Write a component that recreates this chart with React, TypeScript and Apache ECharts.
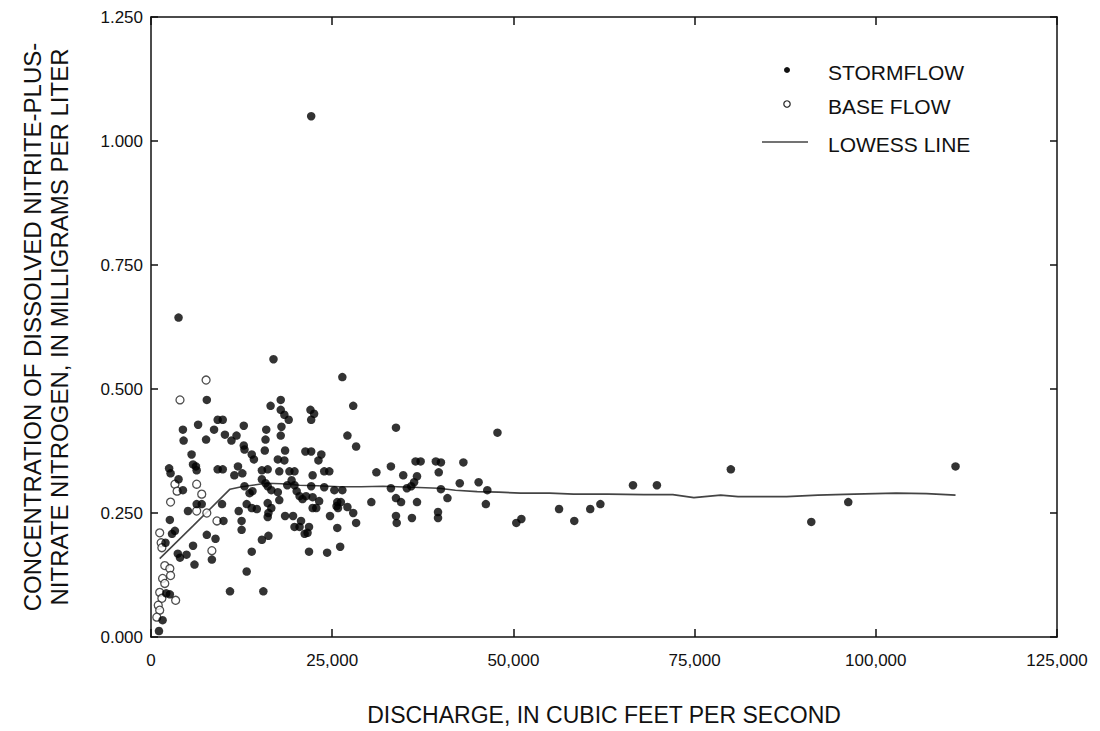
import React, { useEffect, useRef } from "react";
import * as echarts from "echarts";

const xTicks = [0, 25000, 50000, 75000, 100000, 125000];
const yTicks = [0, 0.25, 0.5, 0.75, 1.0, 1.25];

const stormflow: [number, number][] = [
  [22100, 1.05], [3800, 0.644],
  [7700, 0.478], [4400, 0.418], [4500, 0.396], [6500, 0.428], [7600, 0.398], [8700, 0.418],
  [9200, 0.438], [9900, 0.438], [10200, 0.408], [11100, 0.396], [11800, 0.406], [12800, 0.426],
  [12800, 0.386], [12900, 0.378], [5600, 0.368], [5800, 0.348], [6200, 0.344], [6300, 0.336],
  [2500, 0.34], [2700, 0.33], [3800, 0.318], [4400, 0.296], [9200, 0.338], [9900, 0.338],
  [11500, 0.326], [12000, 0.344], [12600, 0.33], [6300, 0.268], [7000, 0.268], [5100, 0.254],
  [9800, 0.268], [10000, 0.234], [12100, 0.254], [12500, 0.234], [12500, 0.216], [2600, 0.236],
  [3300, 0.214], [2900, 0.208], [7700, 0.206], [8900, 0.198], [8400, 0.156], [3700, 0.168],
  [4000, 0.16], [4900, 0.166], [6000, 0.146], [5800, 0.184], [2100, 0.088], [2600, 0.086],
  [1600, 0.034], [1100, 0.012], [10900, 0.092], [13200, 0.132], [13900, 0.172], [2000, 0.19],
  [16900, 0.56], [26400, 0.524], [17900, 0.478], [16500, 0.466], [17900, 0.458], [18400, 0.448],
  [19000, 0.438], [22000, 0.458], [22500, 0.45], [22100, 0.438], [15900, 0.418], [18000, 0.424],
  [15800, 0.398], [17900, 0.406], [13900, 0.368], [14200, 0.358], [15700, 0.376], [18500, 0.376],
  [21300, 0.374], [22100, 0.374], [23500, 0.368], [23100, 0.356], [17500, 0.358], [18400, 0.356],
  [15300, 0.336], [16100, 0.338], [17700, 0.334], [19100, 0.334], [19800, 0.334], [22300, 0.326],
  [23900, 0.334], [24600, 0.334], [15300, 0.318], [15800, 0.31], [16100, 0.304], [19400, 0.316],
  [19800, 0.306], [12900, 0.304], [14000, 0.294], [13600, 0.29], [16600, 0.296], [17500, 0.292],
  [18800, 0.306], [20100, 0.294], [20500, 0.284], [20900, 0.278], [21400, 0.284], [22300, 0.282],
  [22100, 0.304], [23900, 0.302], [17700, 0.276], [16100, 0.27], [16600, 0.26], [16200, 0.25],
  [16100, 0.242], [13200, 0.268], [13900, 0.26], [14600, 0.258], [23200, 0.274], [22800, 0.26],
  [22300, 0.26], [18500, 0.244], [19600, 0.244], [20700, 0.234], [19800, 0.222], [20500, 0.222],
  [21800, 0.222], [21600, 0.21], [21200, 0.208], [24700, 0.244], [15300, 0.196], [16200, 0.204],
  [21800, 0.172], [24300, 0.17], [15500, 0.092],
  [27900, 0.466], [27100, 0.406], [28300, 0.384], [33800, 0.422], [31100, 0.332], [33100, 0.344],
  [34800, 0.326], [36500, 0.354], [37200, 0.354], [39300, 0.354], [40000, 0.352], [36700, 0.324],
  [36300, 0.312], [35900, 0.304], [39700, 0.332], [33100, 0.3], [35300, 0.3], [40000, 0.298],
  [25300, 0.296], [26400, 0.296], [25700, 0.272], [26200, 0.272], [25600, 0.264], [25800, 0.26],
  [27100, 0.262], [30400, 0.272], [33800, 0.28], [34500, 0.272], [36700, 0.272], [27900, 0.25],
  [28300, 0.23], [33800, 0.244], [33900, 0.23], [36000, 0.24], [39600, 0.252], [39600, 0.24],
  [25700, 0.22], [26100, 0.182],
  [47800, 0.412], [43100, 0.352], [42600, 0.31], [45200, 0.312], [46400, 0.296], [40900, 0.28],
  [46200, 0.268], [50400, 0.23], [51100, 0.238], [56300, 0.258], [58400, 0.234], [60600, 0.258],
  [62000, 0.268], [66500, 0.306], [69800, 0.306], [80000, 0.338], [91100, 0.232], [96200, 0.272],
  [111000, 0.344],
];

const baseflow: [number, number][] = [
  [7600, 0.518], [4000, 0.478], [3300, 0.308], [3600, 0.294], [2700, 0.272], [6300, 0.308],
  [7000, 0.288], [6300, 0.254], [7700, 0.25], [9100, 0.234], [1200, 0.21], [1400, 0.19],
  [1500, 0.18], [8400, 0.174], [1900, 0.144], [2600, 0.138], [2700, 0.124], [1600, 0.118],
  [1900, 0.108], [1200, 0.09], [1500, 0.078], [3400, 0.074], [1000, 0.064], [1200, 0.054],
  [800, 0.04],
];

const lowess: [number, number][] = [
  [1200, 0.158], [5800, 0.224], [10900, 0.298], [12500, 0.303], [15900, 0.31], [18000, 0.309],
  [20500, 0.306], [23000, 0.305], [26000, 0.303], [29000, 0.303], [32000, 0.304], [36000, 0.302],
  [39700, 0.3], [42000, 0.296], [45000, 0.293], [48000, 0.292], [51000, 0.29], [55000, 0.29],
  [58300, 0.288], [63000, 0.288], [68000, 0.287], [72000, 0.287], [74900, 0.281], [78600, 0.286],
  [81000, 0.283], [87700, 0.283], [92000, 0.286], [97000, 0.288], [102800, 0.29], [107000, 0.289],
  [111000, 0.286],
];

const legendItems = ["STORMFLOW", "BASE FLOW", "LOWESS LINE"];
const xTitle = "DISCHARGE, IN CUBIC FEET PER SECOND";
const yTitle = "CONCENTRATION OF DISSOLVED NITRITE-PLUS-\nNITRATE NITROGEN, IN MILLIGRAMS PER LITER";

const FONT = "Liberation Sans, Arial, Helvetica, sans-serif";

export default function App() {
  const ref = useRef<HTMLDivElement>(null);
  useEffect(() => {
    if (!ref.current) return;
    const chart = echarts.init(ref.current, null, { renderer: "svg" });
    const axisLine = { show: true, onZero: false, lineStyle: { color: "#111", width: 1.5 } };
    const tick = (len: number) => ({ show: true, inside: true, length: len, lineStyle: { color: "#111", width: 1.5 } });
    const fmtX = (v: number) => (v === 0 ? "0" : v.toLocaleString("en-US"));
    chart.setOption({
      animation: false,
      backgroundColor: "#fff",
      grid: { left: 151, width: 906, top: 17, height: 626, containLabel: false },
      xAxis: [
        {
          type: "value", min: xTicks[0], max: xTicks[xTicks.length - 1], interval: 25000,
          axisLine, axisTick: tick(8),
          splitLine: { show: false },
          axisLabel: { formatter: fmtX, color: "#111", fontSize: 17, fontFamily: FONT, margin: 15 },
          name: xTitle, nameLocation: "middle", nameGap: 66,
          nameTextStyle: { color: "#111", fontSize: 23, fontFamily: FONT },
        },
        {
          type: "value", position: "top", min: xTicks[0], max: xTicks[xTicks.length - 1], interval: 25000,
          axisLine, axisTick: tick(8),
          axisLabel: { show: false }, splitLine: { show: false },
        },
      ],
      yAxis: [
        {
          type: "value", min: yTicks[0], max: yTicks[yTicks.length - 1], interval: 0.25,
          axisLine, axisTick: tick(7),
          splitLine: { show: false },
          axisLabel: { formatter: (v: number) => v.toFixed(3), color: "#111", fontSize: 17, fontFamily: FONT, margin: 8 },
          name: yTitle, nameLocation: "middle", nameGap: 78, nameRotate: 90,
          nameTextStyle: { color: "#111", fontSize: 24, fontFamily: FONT, lineHeight: 27 },
        },
        {
          type: "value", position: "right", min: yTicks[0], max: yTicks[yTicks.length - 1], interval: 0.25,
          axisLine, axisTick: tick(7),
          axisLabel: { show: false }, splitLine: { show: false },
        },
      ],
      series: [
        {
          name: legendItems[2], type: "line", data: lowess, showSymbol: false, symbol: "none",
          lineStyle: { color: "#444", width: 1.6 }, z: 2,
        },
        {
          name: legendItems[1], type: "scatter", data: baseflow, symbol: "circle", symbolSize: 8,
          itemStyle: { color: "#fff", borderColor: "#222", borderWidth: 1.3 }, z: 3,
        },
        {
          name: legendItems[0], type: "scatter", data: stormflow, symbol: "circle", symbolSize: 8.5,
          itemStyle: { color: "#000", borderColor: "#000", borderWidth: 0 }, z: 4,
        },
      ],
      graphic: [
        { type: "circle", shape: { cx: 787, cy: 70, r: 3 }, style: { fill: "#111" } },
        { type: "text", x: 828, y: 72, style: { text: legendItems[0], font: `21px ${FONT}`, fill: "#111", verticalAlign: "middle" } },
        { type: "circle", shape: { cx: 787, cy: 104, r: 3.2 }, style: { fill: "#fff", stroke: "#222", lineWidth: 1.2 } },
        { type: "text", x: 828, y: 106, style: { text: legendItems[1], font: `21px ${FONT}`, fill: "#111", verticalAlign: "middle" } },
        { type: "line", shape: { x1: 762, y1: 142, x2: 808, y2: 142 }, style: { stroke: "#444", lineWidth: 1.6 } },
        { type: "text", x: 828, y: 144, style: { text: legendItems[2], font: `21px ${FONT}`, fill: "#111", verticalAlign: "middle" } },
      ],
    });
    return () => chart.dispose();
  }, []);
  return <div ref={ref} style={{ position: "fixed", left: 0, top: 0, width: 1100, height: 731, background: "#fff" }} />;
}
